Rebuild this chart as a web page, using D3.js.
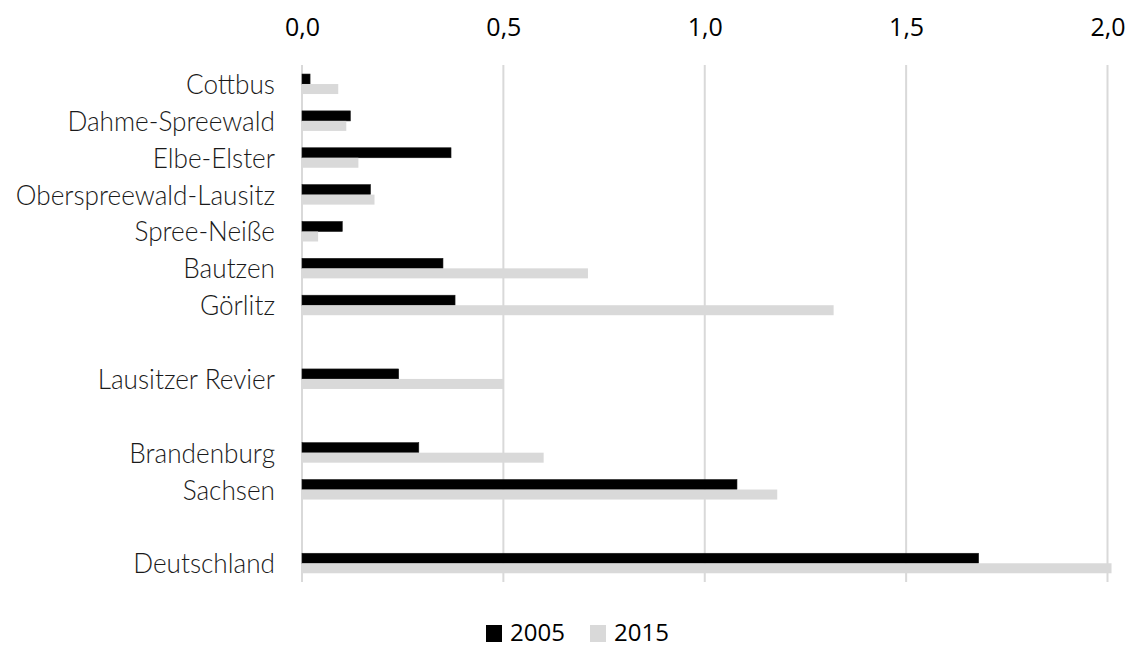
<!DOCTYPE html>
<html>
<head>
<meta charset="utf-8">
<script src="https://cdn.jsdelivr.net/npm/d3@7"></script>
<style>
  html, body { margin: 0; padding: 0; background: #fff; }
  svg { display: block; }
</style>
</head>
<body>
<svg id="chart" width="1129" height="648"></svg>
<script>
// Regions (top to bottom) and their values for 2005 and 2015
const categories = [
  "Cottbus", "Dahme-Spreewald", "Elbe-Elster", "Oberspreewald-Lausitz",
  "Spree-Neiße", "Bautzen", "Görlitz", "Lausitzer Revier",
  "Brandenburg", "Sachsen", "Deutschland"
];
const values2005 = [0.02, 0.12, 0.37, 0.17, 0.10, 0.35, 0.38, 0.24, 0.29, 1.08, 1.68];
const values2015 = [0.09, 0.11, 0.14, 0.18, 0.04, 0.71, 1.32, 0.50, 0.60, 1.18, 2.01];
const seriesNames = ["2005", "2015"];
const seriesColors = ["#000000", "#d9d9d9"];
const tickValues = [0, 0.5, 1.0, 1.5, 2.0];
// An empty row is left after each of these groups
const gapAfter = ["Görlitz", "Lausitzer Revier", "Sachsen"];

// Build the row slots, with spacer rows between the groups
const slots = [];
categories.forEach(c => {
  slots.push(c);
  if (gapAfter.includes(c)) slots.push("__gap" + slots.length);
});

const svg = d3.select("#chart");

const x = d3.scaleLinear().domain([0, 2]).range([302, 1107.5]);
const y = d3.scaleBand().domain(slots).range([65.6, 581.7]).paddingInner(0).paddingOuter(0);
const barH = 10;

const fmt = d => d3.format(".1f")(d).replace(".", ",");

// Vertical gridlines
svg.append("g")
  .selectAll("line")
  .data(tickValues)
  .join("line")
  .attr("x1", d => x(d)).attr("x2", d => x(d))
  .attr("y1", 65).attr("y2", 582)
  .attr("stroke", "#d9d9d9")
  .attr("stroke-width", 2);

// Value axis along the top
const axis = svg.append("g")
  .attr("transform", "translate(0,36)")
  .call(d3.axisTop(x).tickValues(tickValues).tickFormat(fmt).tickSize(0).tickPadding(0));
axis.select(".domain").remove();
axis.selectAll("text")
  .attr("font-family", "'Open Sans', sans-serif")
  .attr("font-size", 25)
  .attr("fill", "#000");

// Bars
const rows = categories.map((c, i) => ({ c, v: [values2005[i], values2015[i]] }));
const barG = svg.append("g");
seriesNames.forEach((s, si) => {
  barG.append("g")
    .selectAll("rect")
    .data(rows)
    .join("rect")
    .attr("x", x(0))
    .attr("y", d => y(d.c) + y.bandwidth() / 2 - barH + si * barH)
    .attr("width", d => x(d.v[si]) - x(0))
    .attr("height", barH)
    .attr("fill", seriesColors[si])
    .attr("stroke", si === 0 ? "#1a1a1a" : "none")
    .attr("stroke-width", si === 0 ? 0.6 : 0);
});

// Category labels
svg.append("g")
  .selectAll("text")
  .data(categories)
  .join("text")
  .attr("transform", d => `translate(275,${y(d) + y.bandwidth() / 2 + 10}) scale(0.97,1)`)
  .attr("text-anchor", "end")
  .attr("font-family", "'Lato Light', Lato, sans-serif")
  .attr("font-weight", 300)
  .attr("font-size", 27)
  .attr("fill", "#1a1a1a")
  .text(d => d);

// Legend
const legend = svg.append("g");
const legendX = [486, 590];
seriesNames.forEach((s, i) => {
  legend.append("rect")
    .attr("x", legendX[i]).attr("y", 625)
    .attr("width", 16).attr("height", 17)
    .attr("fill", seriesColors[i]);
  legend.append("text")
    .attr("x", legendX[i] + 24).attr("y", 641)
    .attr("font-family", "'Open Sans', sans-serif")
    .attr("font-size", 24)
    .attr("fill", "#000")
    .text(s);
});
</script>
</body>
</html>
